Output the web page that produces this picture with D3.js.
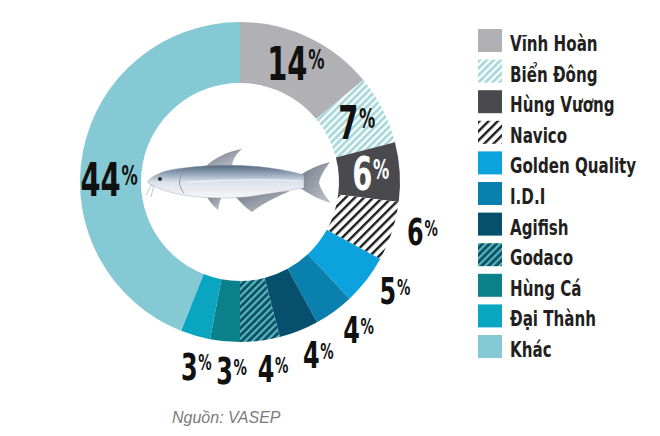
<!DOCTYPE html>
<html>
<head>
<meta charset="utf-8">
<script src="https://cdn.jsdelivr.net/npm/d3@7"></script>
<style>
  body { margin: 0; background: #fff; }
  svg { display: block; }
</style>
</head>
<body>
<div id="chart"></div>
<script>
// market share of pangasius exporters
const companies = ["Vĩnh Hoàn", "Biển Đông", "Hùng Vương", "Navico", "Golden Quality",
    "I.D.I", "Agifish", "Godaco", "Hùng Cá", "Đại Thành", "Khác"];
const shares = [14, 7, 6, 6, 5, 4, 4, 4, 3, 3, 44];
const source = "Nguồn: VASEP";

// styling, kept apart from the data
const fills = ["#b1b0b5", "url(#hatchBien)", "#4a494e", "url(#hatchNavico)", "#0ba2dd",
    "#0a80ae", "#06506e", "url(#hatchGodaco)", "#0b818c", "#0aa6c1", "#85c9d4"];
const inside = [true, true, true, false, false, false, false, false, false, false, true];
const labelColor = ["#111", "#111", "#fff", "#111", "#111", "#111", "#111", "#111", "#111", "#111", "#111"];

const condensed = "'DejaVu Sans Condensed', 'DejaVu Sans', sans-serif";

const width = 660, height = 436;
const cx = 240, cy = 182;
const rInner = 99, rOuter = 160;

const svg = d3.select("#chart").append("svg")
    .attr("width", width)
    .attr("height", height);

const defs = svg.append("defs");

function hatch(id, bg, fg, size, stripe) {
    let p = defs.append("pattern")
        .attr("id", id)
        .attr("patternUnits", "userSpaceOnUse")
        .attr("width", size)
        .attr("height", size)
        .attr("patternTransform", "rotate(45)");
    p.append("rect").attr("width", size).attr("height", size).attr("fill", bg);
    p.append("rect").attr("width", stripe).attr("height", size).attr("fill", fg);
}
hatch("hatchBien", "#ffffff", "#a6d8dc", 5, 2.8);
hatch("hatchNavico", "#ffffff", "#1c1c1e", 6.5, 2.4);
hatch("hatchGodaco", "#0d4f60", "#55b8c4", 5, 2.2);

// fish gradients
let gBody = defs.append("linearGradient").attr("id", "fishBody")
    .attr("x1", 0).attr("y1", 0).attr("x2", 0).attr("y2", 1);
[["0%", "#55677f"], ["28%", "#98a9bc"], ["52%", "#dce3eb"], ["100%", "#f6f7f9"]]
    .forEach(s => gBody.append("stop").attr("offset", s[0]).attr("stop-color", s[1]));
let gFin = defs.append("linearGradient").attr("id", "fishFin")
    .attr("x1", 0).attr("y1", 0).attr("x2", 1).attr("y2", 1);
[["0%", "#6f7782"], ["100%", "#c3c8ce"]]
    .forEach(s => gFin.append("stop").attr("offset", s[0]).attr("stop-color", s[1]));

// donut
const pie = d3.pie().sort(null).value(d => d)(shares);
const arc = d3.arc().innerRadius(rInner).outerRadius(rOuter);

const ring = svg.append("g").attr("transform", `translate(${cx},${cy})`);

ring.selectAll("path.slice")
    .data(pie)
    .enter()
    .append("path")
    .attr("class", "slice")
    .attr("d", arc)
    .attr("fill", (d, i) => fills[i]);

// labels
const arcIn = d3.arc().innerRadius(131).outerRadius(131);
const arcOut = d3.arc().innerRadius(189).outerRadius(189);

pie.forEach(function(d, i) {
    let big = inside[i] ? 46 : 38;
    // nudge outer labels a bit back against the ring direction
    let shift = inside[i] ? (companies[i] === "Khác" ? -0.17 : 0) : -0.05;
    let a = {startAngle: d.startAngle + shift, endAngle: d.endAngle + shift};
    let c = inside[i] ? arcIn.centroid(a) : arcOut.centroid(a);

    let t = ring.append("text")
        .attr("transform", `translate(${c[0]},${c[1] + big * 0.36}) scale(0.7,1)`)
        .attr("text-anchor", "middle")
        .attr("fill", labelColor[i])
        .style("font-family", condensed)
        .style("font-weight", 700);
    t.append("tspan").style("font-size", big + "px").text(shares[i]);
    t.append("tspan").style("font-size", (big * 0.56) + "px")
        .style("font-weight", 700)
        .attr("dx", 1)
        .attr("dy", -big * 0.24)
        .text("%");
});

// fish in the middle
const fish = svg.append("g").attr("class", "fish");

fish.append("path")
    .attr("d", "M205,167 C214,158 228,151 242,149 C236,154 233,159 232,166 Z")
    .attr("fill", "url(#fishFin)");
fish.append("path")
    .attr("d", "M205,194 C209,200 212,205 218,210 C219,204 220,199 223,195 Z")
    .attr("fill", "url(#fishFin)");
fish.append("path")
    .attr("d", "M234,195 C240,202 246,208 252,212 C262,204 276,197 290,191 Z")
    .attr("fill", "url(#fishFin)");
fish.append("path")
    .attr("d", "M300,175 C308,170 318,165 330,162 C324,170 320,177 319,183 C321,190 326,197 331,203 C320,200 309,194 300,188 Z")
    .attr("fill", "url(#fishFin)");
fish.append("path")
    .attr("d", "M148,181 C152,176 162,171 176,169 C200,165 236,164 262,167 C280,169 294,172 304,175 L304,188 C290,190 270,194 246,197 C222,199 198,198 178,194 C164,191 154,187 148,183 Z")
    .attr("fill", "url(#fishBody)")
    .attr("stroke", "#8c99a8")
    .attr("stroke-width", 0.4);
fish.append("path")
    .attr("d", "M184,171 C178,178 178,186 184,193")
    .attr("fill", "none")
    .attr("stroke", "#7d8a99")
    .attr("stroke-width", 0.8);
fish.append("path")
    .attr("d", "M186,182 C220,180 260,179 302,181")
    .attr("fill", "none")
    .attr("stroke", "#ffffff")
    .attr("stroke-opacity", 0.7)
    .attr("stroke-width", 1.2);
fish.append("path")
    .attr("d", "M152,184 L146,195 M154,185 L151,197")
    .attr("stroke", "#9aa4ae")
    .attr("stroke-width", 0.6);
fish.append("circle")
    .attr("cx", 160).attr("cy", 179).attr("r", 2)
    .attr("fill", "#2a2f38");

// legend
const legend = svg.append("g").attr("class", "legend")
    .attr("transform", "translate(478,29)");

const row = legend.selectAll("g")
    .data(companies)
    .enter()
    .append("g")
    .attr("transform", (d, i) => `translate(0, ${i * 30.6})`);

row.append("rect")
    .attr("width", 24)
    .attr("height", 23)
    .attr("fill", (d, i) => fills[i]);

row.append("text")
    .attr("transform", "translate(32,22) scale(0.8,1)")
    .text(d => d)
    .attr("fill", "#231f20")
    .style("font-family", condensed)
    .style("font-weight", 700)
    .style("font-size", "21px");

// source
svg.append("text")
    .attr("x", 172)
    .attr("y", 423)
    .text(source)
    .attr("fill", "#7a7a7a")
    .style("font-family", "'Liberation Sans', 'Open Sans', sans-serif")
    .style("font-style", "italic")
    .style("font-size", "16px");
</script>
</body>
</html>
